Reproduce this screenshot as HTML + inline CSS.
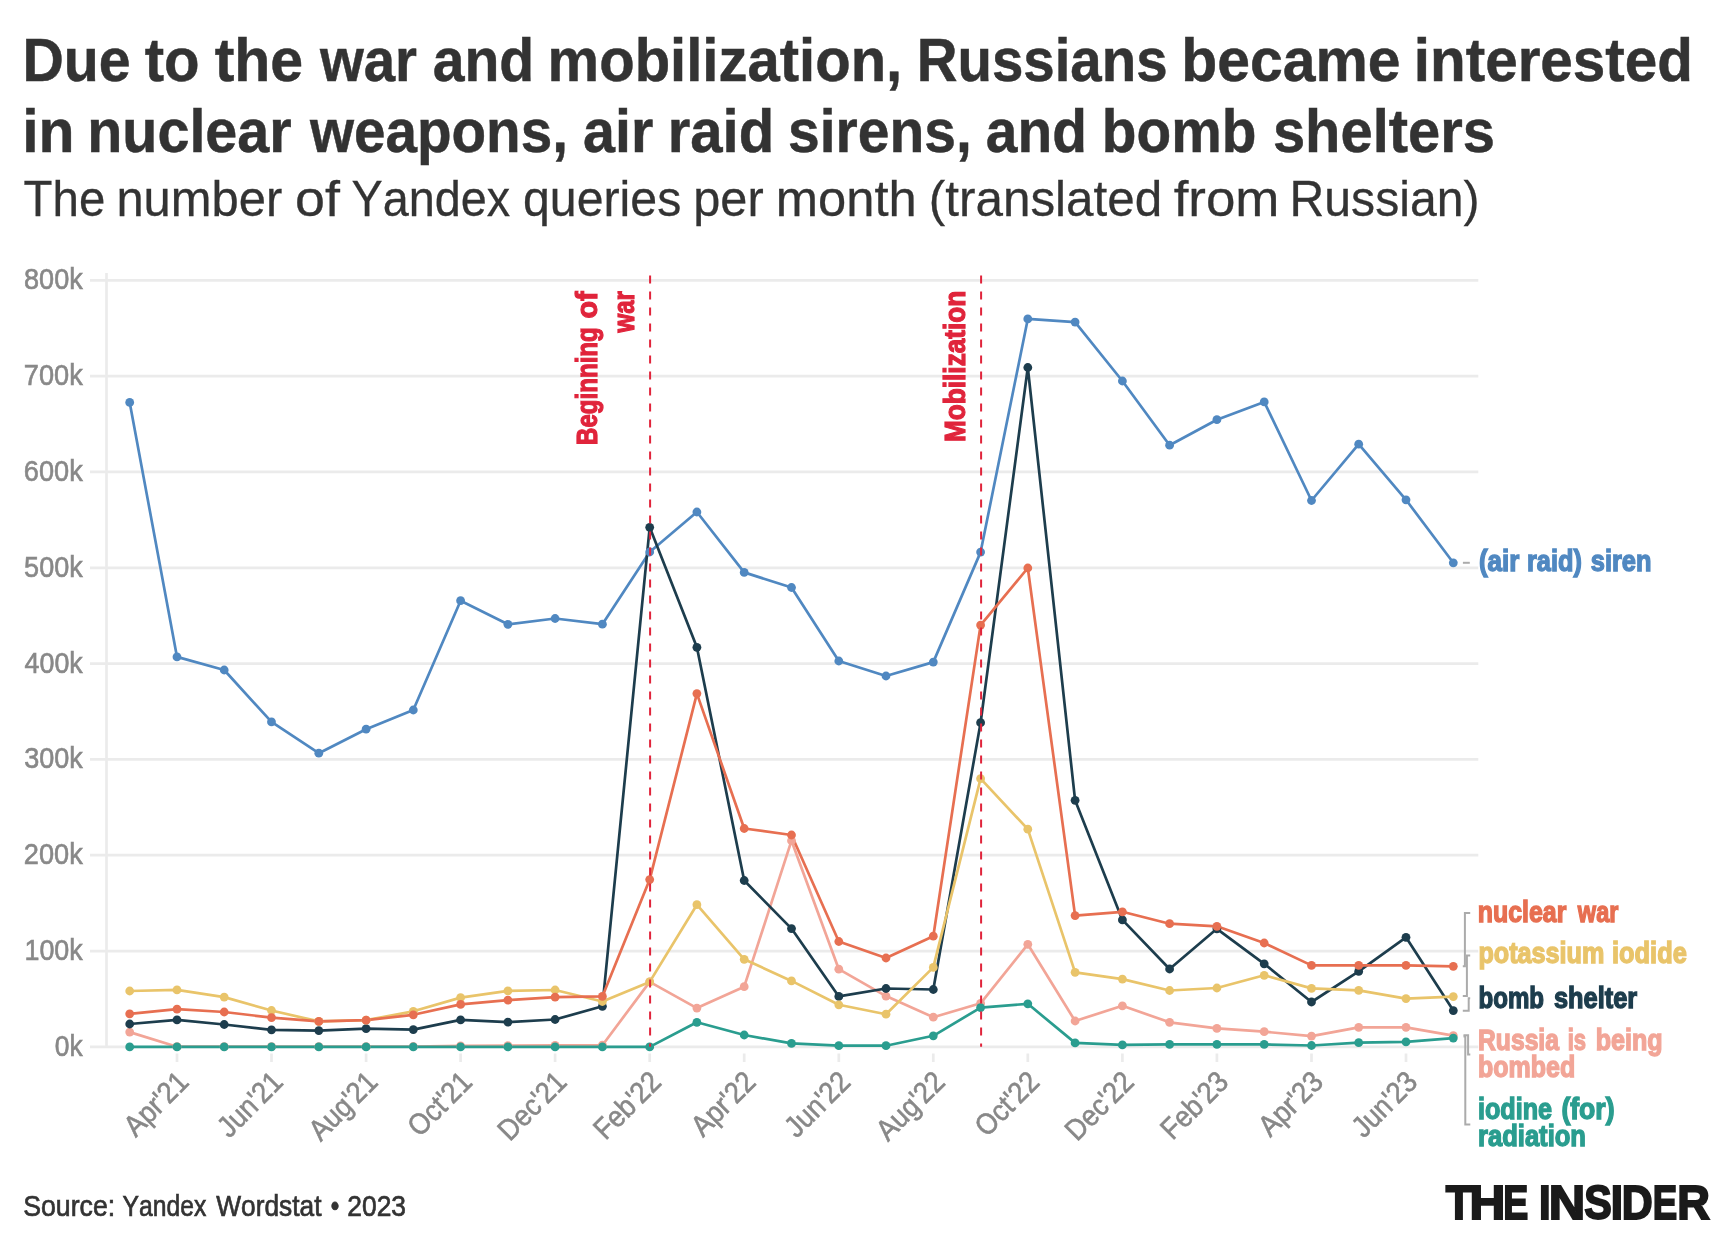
<!DOCTYPE html>
<html lang="en"><head><meta charset="utf-8"><title>Yandex queries chart</title>
<style>html,body{margin:0;padding:0;background:#fff;}svg{display:block;will-change:transform;}text{font-family:"Liberation Sans",sans-serif;font-kerning:none;}</style>
</head><body>
<svg width="1732" height="1251" viewBox="0 0 1732 1251">
<rect width="1732" height="1251" fill="#ffffff"/>
<g fill="#333333" stroke="#333333" stroke-width="0.5" font-weight="700" font-size="62">
<text x="22.42" y="80.8" textLength="108.19" lengthAdjust="spacingAndGlyphs">Due</text>
<text x="144.64" y="80.8" textLength="54.88" lengthAdjust="spacingAndGlyphs">to</text>
<text x="214.63" y="80.8" textLength="88.54" lengthAdjust="spacingAndGlyphs">the</text>
<text x="319.92" y="80.8" textLength="97.09" lengthAdjust="spacingAndGlyphs">war</text>
<text x="432.68" y="80.8" textLength="101.54" lengthAdjust="spacingAndGlyphs">and</text>
<text x="547.62" y="80.8" textLength="354.61" lengthAdjust="spacingAndGlyphs">mobilization,</text>
<text x="916.78" y="80.8" textLength="250.79" lengthAdjust="spacingAndGlyphs">Russians</text>
<text x="1181.27" y="80.8" textLength="219.29" lengthAdjust="spacingAndGlyphs">became</text>
<text x="1413.77" y="80.8" textLength="279.23" lengthAdjust="spacingAndGlyphs">interested</text>
</g>
<g fill="#333333" stroke="#333333" stroke-width="0.5" font-weight="700" font-size="62">
<text x="22.14" y="152.2" textLength="52.37" lengthAdjust="spacingAndGlyphs">in</text>
<text x="87.26" y="152.2" textLength="204.36" lengthAdjust="spacingAndGlyphs">nuclear</text>
<text x="309.92" y="152.2" textLength="258.02" lengthAdjust="spacingAndGlyphs">weapons,</text>
<text x="583.07" y="152.2" textLength="70.25" lengthAdjust="spacingAndGlyphs">air</text>
<text x="667.72" y="152.2" textLength="106.45" lengthAdjust="spacingAndGlyphs">raid</text>
<text x="788.05" y="152.2" textLength="183.71" lengthAdjust="spacingAndGlyphs">sirens,</text>
<text x="985.78" y="152.2" textLength="101.12" lengthAdjust="spacingAndGlyphs">and</text>
<text x="1101.81" y="152.2" textLength="154.57" lengthAdjust="spacingAndGlyphs">bomb</text>
<text x="1272.91" y="152.2" textLength="222.11" lengthAdjust="spacingAndGlyphs">shelters</text>
</g>
<g fill="#333333" stroke="#333333" stroke-width="0.3" font-weight="400" font-size="50.8">
<text x="23.59" y="215.8" textLength="81.67" lengthAdjust="spacingAndGlyphs">The</text>
<text x="116.40" y="215.8" textLength="165.86" lengthAdjust="spacingAndGlyphs">number</text>
<text x="295.09" y="215.8" textLength="44.88" lengthAdjust="spacingAndGlyphs">of</text>
<text x="351.52" y="215.8" textLength="158.73" lengthAdjust="spacingAndGlyphs">Yandex</text>
<text x="523.02" y="215.8" textLength="158.27" lengthAdjust="spacingAndGlyphs">queries</text>
<text x="693.31" y="215.8" textLength="70.35" lengthAdjust="spacingAndGlyphs">per</text>
<text x="775.78" y="215.8" textLength="140.96" lengthAdjust="spacingAndGlyphs">month</text>
<text x="928.78" y="215.8" textLength="233.55" lengthAdjust="spacingAndGlyphs">(translated</text>
<text x="1173.70" y="215.8" textLength="105.73" lengthAdjust="spacingAndGlyphs">from</text>
<text x="1289.60" y="215.8" textLength="189.93" lengthAdjust="spacingAndGlyphs">Russian)</text>
</g>
<g stroke="#ebebeb" stroke-width="2.7" fill="none">
<line x1="90" y1="1046.9" x2="1478.3" y2="1046.9"/>
<line x1="90" y1="951.1" x2="1478.3" y2="951.1"/>
<line x1="90" y1="855.2" x2="1478.3" y2="855.2"/>
<line x1="90" y1="759.4" x2="1478.3" y2="759.4"/>
<line x1="90" y1="663.6" x2="1478.3" y2="663.6"/>
<line x1="90" y1="567.8" x2="1478.3" y2="567.8"/>
<line x1="90" y1="471.9" x2="1478.3" y2="471.9"/>
<line x1="90" y1="376.1" x2="1478.3" y2="376.1"/>
<line x1="90" y1="280.3" x2="1478.3" y2="280.3"/>
<line x1="106.5" y1="273" x2="106.5" y2="1048.1"/>
<line x1="177.0" y1="1053.5" x2="177.0" y2="1062"/>
<line x1="271.5" y1="1053.5" x2="271.5" y2="1062"/>
<line x1="366.1" y1="1053.5" x2="366.1" y2="1062"/>
<line x1="460.6" y1="1053.5" x2="460.6" y2="1062"/>
<line x1="555.1" y1="1053.5" x2="555.1" y2="1062"/>
<line x1="649.7" y1="1053.5" x2="649.7" y2="1062"/>
<line x1="744.2" y1="1053.5" x2="744.2" y2="1062"/>
<line x1="838.8" y1="1053.5" x2="838.8" y2="1062"/>
<line x1="933.3" y1="1053.5" x2="933.3" y2="1062"/>
<line x1="1027.8" y1="1053.5" x2="1027.8" y2="1062"/>
<line x1="1122.4" y1="1053.5" x2="1122.4" y2="1062"/>
<line x1="1216.9" y1="1053.5" x2="1216.9" y2="1062"/>
<line x1="1311.5" y1="1053.5" x2="1311.5" y2="1062"/>
<line x1="1406.0" y1="1053.5" x2="1406.0" y2="1062"/>
</g>
<g fill="#888888" stroke="#888888" stroke-width="0.6" font-size="28.8">
<text x="54.87" y="1055.9" textLength="27.89" lengthAdjust="spacingAndGlyphs">0k</text>
<text x="24.45" y="960.1" textLength="58.31" lengthAdjust="spacingAndGlyphs">100k</text>
<text x="23.83" y="864.2" textLength="58.93" lengthAdjust="spacingAndGlyphs">200k</text>
<text x="24.17" y="768.4" textLength="58.59" lengthAdjust="spacingAndGlyphs">300k</text>
<text x="24.58" y="672.6" textLength="58.18" lengthAdjust="spacingAndGlyphs">400k</text>
<text x="24.12" y="576.8" textLength="58.64" lengthAdjust="spacingAndGlyphs">500k</text>
<text x="23.82" y="480.9" textLength="58.94" lengthAdjust="spacingAndGlyphs">600k</text>
<text x="23.81" y="385.1" textLength="58.95" lengthAdjust="spacingAndGlyphs">700k</text>
<text x="24.02" y="289.3" textLength="58.74" lengthAdjust="spacingAndGlyphs">800k</text>
</g>
<g fill="#888888" stroke="#888888" stroke-width="0.6" font-size="29.6" text-anchor="end">
<text transform="translate(190.2,1083.6) rotate(-45)" textLength="76.9" lengthAdjust="spacingAndGlyphs">Apr'21</text>
<text transform="translate(284.7,1083.6) rotate(-45)" textLength="78.4" lengthAdjust="spacingAndGlyphs">Jun'21</text>
<text transform="translate(379.2,1083.6) rotate(-45)" textLength="82.8" lengthAdjust="spacingAndGlyphs">Aug'21</text>
<text transform="translate(473.8,1083.6) rotate(-45)" textLength="76.8" lengthAdjust="spacingAndGlyphs">Oct'21</text>
<text transform="translate(568.3,1083.6) rotate(-45)" textLength="82.8" lengthAdjust="spacingAndGlyphs">Dec'21</text>
<text transform="translate(662.9,1083.6) rotate(-45)" textLength="81.3" lengthAdjust="spacingAndGlyphs">Feb'22</text>
<text transform="translate(757.4,1083.6) rotate(-45)" textLength="76.9" lengthAdjust="spacingAndGlyphs">Apr'22</text>
<text transform="translate(852.0,1083.6) rotate(-45)" textLength="78.4" lengthAdjust="spacingAndGlyphs">Jun'22</text>
<text transform="translate(946.5,1083.6) rotate(-45)" textLength="82.8" lengthAdjust="spacingAndGlyphs">Aug'22</text>
<text transform="translate(1041.0,1083.6) rotate(-45)" textLength="76.8" lengthAdjust="spacingAndGlyphs">Oct'22</text>
<text transform="translate(1135.6,1083.6) rotate(-45)" textLength="82.8" lengthAdjust="spacingAndGlyphs">Dec'22</text>
<text transform="translate(1230.1,1083.6) rotate(-45)" textLength="81.3" lengthAdjust="spacingAndGlyphs">Feb'23</text>
<text transform="translate(1324.7,1083.6) rotate(-45)" textLength="76.9" lengthAdjust="spacingAndGlyphs">Apr'23</text>
<text transform="translate(1419.2,1083.6) rotate(-45)" textLength="78.4" lengthAdjust="spacingAndGlyphs">Jun'23</text>
</g>
<g fill="none" stroke-width="2.7" stroke-linejoin="round" stroke-linecap="round">
<polyline stroke="#5088c1" points="129.7,402.4 177.0,656.9 224.2,670.0 271.5,721.9 318.8,753.2 366.1,729.2 413.3,710.0 460.6,600.7 507.9,624.3 555.1,618.5 602.4,624.2 649.7,552.0 696.9,512.0 744.2,572.4 791.5,587.5 838.8,661.0 886.0,676.0 933.3,662.1 980.6,552.1 1027.8,318.9 1075.1,322.1 1122.4,381.0 1169.6,445.2 1216.9,419.7 1264.2,401.9 1311.5,500.5 1358.7,444.2 1406.0,499.8 1453.3,562.8"/>
<polyline stroke="#f2a597" points="129.7,1032.1 177.0,1046.7 224.2,1046.7 271.5,1046.7 318.8,1046.7 366.1,1046.7 413.3,1046.5 460.6,1045.9 507.9,1045.6 555.1,1045.4 602.4,1045.2 649.7,981.9 696.9,1008.1 744.2,986.7 791.5,840.7 838.8,969.2 886.0,996.1 933.3,1017.2 980.6,1003.3 1027.8,944.3 1075.1,1021.0 1122.4,1005.8 1169.6,1022.3 1216.9,1028.4 1264.2,1031.7 1311.5,1036.1 1358.7,1027.3 1406.0,1027.3 1453.3,1035.6"/>
<polyline stroke="#1d3d4d" points="129.7,1024.0 177.0,1019.9 224.2,1024.5 271.5,1029.8 318.8,1030.6 366.1,1028.6 413.3,1029.6 460.6,1019.9 507.9,1022.1 555.1,1019.5 602.4,1006.3 649.7,527.3 696.9,647.3 744.2,880.5 791.5,928.6 838.8,996.4 886.0,988.5 933.3,989.5 980.6,722.7 1027.8,367.5 1075.1,800.3 1122.4,919.9 1169.6,969.0 1216.9,928.8 1264.2,963.8 1311.5,1002.0 1358.7,971.4 1406.0,937.3 1453.3,1010.6"/>
<polyline stroke="#e9c46a" points="129.7,991.0 177.0,989.9 224.2,997.1 271.5,1010.5 318.8,1021.4 366.1,1020.2 413.3,1011.3 460.6,997.6 507.9,990.8 555.1,990.0 602.4,1001.5 649.7,981.9 696.9,904.7 744.2,959.3 791.5,980.9 838.8,1004.8 886.0,1014.2 933.3,967.4 980.6,778.7 1027.8,829.2 1075.1,972.3 1122.4,979.1 1169.6,990.5 1216.9,988.0 1264.2,975.3 1311.5,988.4 1358.7,990.4 1406.0,998.6 1453.3,996.6"/>
<polyline stroke="#e76f51" points="129.7,1013.8 177.0,1009.2 224.2,1012.0 271.5,1017.6 318.8,1021.4 366.1,1020.2 413.3,1014.8 460.6,1004.4 507.9,1000.1 555.1,997.2 602.4,996.4 649.7,879.6 696.9,693.6 744.2,828.5 791.5,835.0 838.8,941.5 886.0,958.0 933.3,936.2 980.6,625.1 1027.8,568.0 1075.1,915.6 1122.4,911.8 1169.6,923.7 1216.9,926.3 1264.2,943.0 1311.5,965.4 1358.7,965.4 1406.0,965.4 1453.3,966.3"/>
<polyline stroke="#2a9d8f" points="129.7,1046.9 177.0,1046.9 224.2,1046.9 271.5,1046.9 318.8,1046.9 366.1,1046.9 413.3,1046.9 460.6,1046.9 507.9,1046.9 555.1,1046.9 602.4,1046.9 649.7,1046.9 696.9,1022.3 744.2,1035.0 791.5,1043.4 838.8,1045.7 886.0,1045.7 933.3,1035.8 980.6,1007.6 1027.8,1003.8 1075.1,1042.9 1122.4,1044.9 1169.6,1044.4 1216.9,1044.4 1264.2,1044.4 1311.5,1045.5 1358.7,1042.7 1406.0,1041.8 1453.3,1038.1"/>
</g>
<g fill="#5088c1">
<circle cx="129.7" cy="402.4" r="4.4"/><circle cx="177.0" cy="656.9" r="4.4"/><circle cx="224.2" cy="670.0" r="4.4"/><circle cx="271.5" cy="721.9" r="4.4"/><circle cx="318.8" cy="753.2" r="4.4"/><circle cx="366.1" cy="729.2" r="4.4"/><circle cx="413.3" cy="710.0" r="4.4"/><circle cx="460.6" cy="600.7" r="4.4"/><circle cx="507.9" cy="624.3" r="4.4"/><circle cx="555.1" cy="618.5" r="4.4"/><circle cx="602.4" cy="624.2" r="4.4"/><circle cx="649.7" cy="552.0" r="4.4"/><circle cx="696.9" cy="512.0" r="4.4"/><circle cx="744.2" cy="572.4" r="4.4"/><circle cx="791.5" cy="587.5" r="4.4"/><circle cx="838.8" cy="661.0" r="4.4"/><circle cx="886.0" cy="676.0" r="4.4"/><circle cx="933.3" cy="662.1" r="4.4"/><circle cx="980.6" cy="552.1" r="4.4"/><circle cx="1027.8" cy="318.9" r="4.4"/><circle cx="1075.1" cy="322.1" r="4.4"/><circle cx="1122.4" cy="381.0" r="4.4"/><circle cx="1169.6" cy="445.2" r="4.4"/><circle cx="1216.9" cy="419.7" r="4.4"/><circle cx="1264.2" cy="401.9" r="4.4"/><circle cx="1311.5" cy="500.5" r="4.4"/><circle cx="1358.7" cy="444.2" r="4.4"/><circle cx="1406.0" cy="499.8" r="4.4"/><circle cx="1453.3" cy="562.8" r="4.4"/>
</g>
<g fill="#f2a597">
<circle cx="129.7" cy="1032.1" r="4.4"/><circle cx="177.0" cy="1046.7" r="4.4"/><circle cx="224.2" cy="1046.7" r="4.4"/><circle cx="271.5" cy="1046.7" r="4.4"/><circle cx="318.8" cy="1046.7" r="4.4"/><circle cx="366.1" cy="1046.7" r="4.4"/><circle cx="413.3" cy="1046.5" r="4.4"/><circle cx="460.6" cy="1045.9" r="4.4"/><circle cx="507.9" cy="1045.6" r="4.4"/><circle cx="555.1" cy="1045.4" r="4.4"/><circle cx="602.4" cy="1045.2" r="4.4"/><circle cx="649.7" cy="981.9" r="4.4"/><circle cx="696.9" cy="1008.1" r="4.4"/><circle cx="744.2" cy="986.7" r="4.4"/><circle cx="791.5" cy="840.7" r="4.4"/><circle cx="838.8" cy="969.2" r="4.4"/><circle cx="886.0" cy="996.1" r="4.4"/><circle cx="933.3" cy="1017.2" r="4.4"/><circle cx="980.6" cy="1003.3" r="4.4"/><circle cx="1027.8" cy="944.3" r="4.4"/><circle cx="1075.1" cy="1021.0" r="4.4"/><circle cx="1122.4" cy="1005.8" r="4.4"/><circle cx="1169.6" cy="1022.3" r="4.4"/><circle cx="1216.9" cy="1028.4" r="4.4"/><circle cx="1264.2" cy="1031.7" r="4.4"/><circle cx="1311.5" cy="1036.1" r="4.4"/><circle cx="1358.7" cy="1027.3" r="4.4"/><circle cx="1406.0" cy="1027.3" r="4.4"/><circle cx="1453.3" cy="1035.6" r="4.4"/>
</g>
<g fill="#1d3d4d">
<circle cx="129.7" cy="1024.0" r="4.4"/><circle cx="177.0" cy="1019.9" r="4.4"/><circle cx="224.2" cy="1024.5" r="4.4"/><circle cx="271.5" cy="1029.8" r="4.4"/><circle cx="318.8" cy="1030.6" r="4.4"/><circle cx="366.1" cy="1028.6" r="4.4"/><circle cx="413.3" cy="1029.6" r="4.4"/><circle cx="460.6" cy="1019.9" r="4.4"/><circle cx="507.9" cy="1022.1" r="4.4"/><circle cx="555.1" cy="1019.5" r="4.4"/><circle cx="602.4" cy="1006.3" r="4.4"/><circle cx="649.7" cy="527.3" r="4.4"/><circle cx="696.9" cy="647.3" r="4.4"/><circle cx="744.2" cy="880.5" r="4.4"/><circle cx="791.5" cy="928.6" r="4.4"/><circle cx="838.8" cy="996.4" r="4.4"/><circle cx="886.0" cy="988.5" r="4.4"/><circle cx="933.3" cy="989.5" r="4.4"/><circle cx="980.6" cy="722.7" r="4.4"/><circle cx="1027.8" cy="367.5" r="4.4"/><circle cx="1075.1" cy="800.3" r="4.4"/><circle cx="1122.4" cy="919.9" r="4.4"/><circle cx="1169.6" cy="969.0" r="4.4"/><circle cx="1216.9" cy="928.8" r="4.4"/><circle cx="1264.2" cy="963.8" r="4.4"/><circle cx="1311.5" cy="1002.0" r="4.4"/><circle cx="1358.7" cy="971.4" r="4.4"/><circle cx="1406.0" cy="937.3" r="4.4"/><circle cx="1453.3" cy="1010.6" r="4.4"/>
</g>
<g fill="#e9c46a">
<circle cx="129.7" cy="991.0" r="4.4"/><circle cx="177.0" cy="989.9" r="4.4"/><circle cx="224.2" cy="997.1" r="4.4"/><circle cx="271.5" cy="1010.5" r="4.4"/><circle cx="318.8" cy="1021.4" r="4.4"/><circle cx="366.1" cy="1020.2" r="4.4"/><circle cx="413.3" cy="1011.3" r="4.4"/><circle cx="460.6" cy="997.6" r="4.4"/><circle cx="507.9" cy="990.8" r="4.4"/><circle cx="555.1" cy="990.0" r="4.4"/><circle cx="602.4" cy="1001.5" r="4.4"/><circle cx="649.7" cy="981.9" r="4.4"/><circle cx="696.9" cy="904.7" r="4.4"/><circle cx="744.2" cy="959.3" r="4.4"/><circle cx="791.5" cy="980.9" r="4.4"/><circle cx="838.8" cy="1004.8" r="4.4"/><circle cx="886.0" cy="1014.2" r="4.4"/><circle cx="933.3" cy="967.4" r="4.4"/><circle cx="980.6" cy="778.7" r="4.4"/><circle cx="1027.8" cy="829.2" r="4.4"/><circle cx="1075.1" cy="972.3" r="4.4"/><circle cx="1122.4" cy="979.1" r="4.4"/><circle cx="1169.6" cy="990.5" r="4.4"/><circle cx="1216.9" cy="988.0" r="4.4"/><circle cx="1264.2" cy="975.3" r="4.4"/><circle cx="1311.5" cy="988.4" r="4.4"/><circle cx="1358.7" cy="990.4" r="4.4"/><circle cx="1406.0" cy="998.6" r="4.4"/><circle cx="1453.3" cy="996.6" r="4.4"/>
</g>
<g fill="#e76f51">
<circle cx="129.7" cy="1013.8" r="4.4"/><circle cx="177.0" cy="1009.2" r="4.4"/><circle cx="224.2" cy="1012.0" r="4.4"/><circle cx="271.5" cy="1017.6" r="4.4"/><circle cx="318.8" cy="1021.4" r="4.4"/><circle cx="366.1" cy="1020.2" r="4.4"/><circle cx="413.3" cy="1014.8" r="4.4"/><circle cx="460.6" cy="1004.4" r="4.4"/><circle cx="507.9" cy="1000.1" r="4.4"/><circle cx="555.1" cy="997.2" r="4.4"/><circle cx="602.4" cy="996.4" r="4.4"/><circle cx="649.7" cy="879.6" r="4.4"/><circle cx="696.9" cy="693.6" r="4.4"/><circle cx="744.2" cy="828.5" r="4.4"/><circle cx="791.5" cy="835.0" r="4.4"/><circle cx="838.8" cy="941.5" r="4.4"/><circle cx="886.0" cy="958.0" r="4.4"/><circle cx="933.3" cy="936.2" r="4.4"/><circle cx="980.6" cy="625.1" r="4.4"/><circle cx="1027.8" cy="568.0" r="4.4"/><circle cx="1075.1" cy="915.6" r="4.4"/><circle cx="1122.4" cy="911.8" r="4.4"/><circle cx="1169.6" cy="923.7" r="4.4"/><circle cx="1216.9" cy="926.3" r="4.4"/><circle cx="1264.2" cy="943.0" r="4.4"/><circle cx="1311.5" cy="965.4" r="4.4"/><circle cx="1358.7" cy="965.4" r="4.4"/><circle cx="1406.0" cy="965.4" r="4.4"/><circle cx="1453.3" cy="966.3" r="4.4"/>
</g>
<g fill="#2a9d8f">
<circle cx="129.7" cy="1046.9" r="4.4"/><circle cx="177.0" cy="1046.9" r="4.4"/><circle cx="224.2" cy="1046.9" r="4.4"/><circle cx="271.5" cy="1046.9" r="4.4"/><circle cx="318.8" cy="1046.9" r="4.4"/><circle cx="366.1" cy="1046.9" r="4.4"/><circle cx="413.3" cy="1046.9" r="4.4"/><circle cx="460.6" cy="1046.9" r="4.4"/><circle cx="507.9" cy="1046.9" r="4.4"/><circle cx="555.1" cy="1046.9" r="4.4"/><circle cx="602.4" cy="1046.9" r="4.4"/><circle cx="649.7" cy="1046.9" r="4.4"/><circle cx="696.9" cy="1022.3" r="4.4"/><circle cx="744.2" cy="1035.0" r="4.4"/><circle cx="791.5" cy="1043.4" r="4.4"/><circle cx="838.8" cy="1045.7" r="4.4"/><circle cx="886.0" cy="1045.7" r="4.4"/><circle cx="933.3" cy="1035.8" r="4.4"/><circle cx="980.6" cy="1007.6" r="4.4"/><circle cx="1027.8" cy="1003.8" r="4.4"/><circle cx="1075.1" cy="1042.9" r="4.4"/><circle cx="1122.4" cy="1044.9" r="4.4"/><circle cx="1169.6" cy="1044.4" r="4.4"/><circle cx="1216.9" cy="1044.4" r="4.4"/><circle cx="1264.2" cy="1044.4" r="4.4"/><circle cx="1311.5" cy="1045.5" r="4.4"/><circle cx="1358.7" cy="1042.7" r="4.4"/><circle cx="1406.0" cy="1041.8" r="4.4"/><circle cx="1453.3" cy="1038.1" r="4.4"/>
</g>
<g stroke="#e0243b" stroke-width="2" stroke-dasharray="8 8" fill="none">
<line x1="650.1" y1="275.5" x2="650.1" y2="1046.7"/>
<line x1="981.1" y1="275.5" x2="981.1" y2="1046.7"/>
</g>
<g fill="#e0243b" stroke="#e0243b" stroke-width="1.2" font-weight="700" font-size="29.5">
<text transform="translate(597.1,0) rotate(-90)" x="-445.01" y="0" textLength="117.82" lengthAdjust="spacingAndGlyphs">Beginning</text>
<text transform="translate(597.1,0) rotate(-90)" x="-318.62" y="0" textLength="27.17" lengthAdjust="spacingAndGlyphs">of</text>
<text transform="translate(634.2,0) rotate(-90)" x="-332.53" y="0" textLength="41.49" lengthAdjust="spacingAndGlyphs">war</text>
<text transform="translate(965.0,0) rotate(-90)" x="-442.05" y="0" textLength="151.38" lengthAdjust="spacingAndGlyphs">Mobilization</text>
</g>
<g stroke="#ababab" stroke-width="2" fill="none">
<line x1="1462.9" y1="562.8" x2="1469.8" y2="562.8"/>
<polyline points="1462.8,966.2 1464.9,966.2 1464.9,912.9 1470.2,912.9"/>
<polyline points="1462.8,995.9 1466.9,995.9 1466.9,955.6 1470.2,955.6"/>
<polyline points="1462.8,1010.7 1468.7,1010.7 1468.7,998.3 1470.2,998.3"/>
<polyline points="1463.5,1035.2 1468.1,1035.2 1468.1,1054.6 1470.3,1054.6"/>
<polyline points="1463.5,1036.6 1465.3,1036.6 1465.3,1124.6 1470.3,1124.6"/>
</g>
<g font-weight="700" font-size="29.6">
<text x="1478.90" y="570.90" fill="#5088c1" stroke="#5088c1" stroke-width="1.4" textLength="40.49" lengthAdjust="spacingAndGlyphs">(air</text>
<text x="1527.03" y="570.90" fill="#5088c1" stroke="#5088c1" stroke-width="1.4" textLength="54.83" lengthAdjust="spacingAndGlyphs">raid)</text>
<text x="1590.81" y="570.90" fill="#5088c1" stroke="#5088c1" stroke-width="1.4" textLength="60.67" lengthAdjust="spacingAndGlyphs">siren</text>
<text x="1477.76" y="922.00" fill="#e76f51" stroke="#e76f51" stroke-width="1.4" textLength="88.62" lengthAdjust="spacingAndGlyphs">nuclear</text>
<text x="1577.87" y="922.00" fill="#e76f51" stroke="#e76f51" stroke-width="1.4" textLength="40.49" lengthAdjust="spacingAndGlyphs">war</text>
<text x="1478.44" y="962.90" fill="#e9c46a" stroke="#e9c46a" stroke-width="1.4" textLength="125.82" lengthAdjust="spacingAndGlyphs">potassium</text>
<text x="1612.03" y="962.90" fill="#e9c46a" stroke="#e9c46a" stroke-width="1.4" textLength="74.74" lengthAdjust="spacingAndGlyphs">iodide</text>
<text x="1478.51" y="1007.90" fill="#1d3d4d" stroke="#1d3d4d" stroke-width="1.4" textLength="65.58" lengthAdjust="spacingAndGlyphs">bomb</text>
<text x="1554.01" y="1007.90" fill="#1d3d4d" stroke="#1d3d4d" stroke-width="1.4" textLength="83.07" lengthAdjust="spacingAndGlyphs">shelter</text>
<text x="1478.05" y="1049.60" fill="#f2a597" stroke="#f2a597" stroke-width="1.4" textLength="80.89" lengthAdjust="spacingAndGlyphs">Russia</text>
<text x="1567.66" y="1049.60" fill="#f2a597" stroke="#f2a597" stroke-width="1.4" textLength="18.34" lengthAdjust="spacingAndGlyphs">is</text>
<text x="1595.65" y="1049.60" fill="#f2a597" stroke="#f2a597" stroke-width="1.4" textLength="66.93" lengthAdjust="spacingAndGlyphs">being</text>
<text x="1478.05" y="1077.00" fill="#f2a597" stroke="#f2a597" stroke-width="1.4" textLength="97.09" lengthAdjust="spacingAndGlyphs">bombed</text>
<text x="1477.94" y="1118.90" fill="#2a9d8f" stroke="#2a9d8f" stroke-width="1.4" textLength="74.12" lengthAdjust="spacingAndGlyphs">iodine</text>
<text x="1561.38" y="1118.90" fill="#2a9d8f" stroke="#2a9d8f" stroke-width="1.4" textLength="53.15" lengthAdjust="spacingAndGlyphs">(for)</text>
<text x="1478.01" y="1146.30" fill="#2a9d8f" stroke="#2a9d8f" stroke-width="1.4" textLength="107.97" lengthAdjust="spacingAndGlyphs">radiation</text>
</g>
<g fill="#333333" stroke="#333333" stroke-width="0.7" font-weight="400" font-size="29.8">
<text x="23.24" y="1216.1" textLength="91.95" lengthAdjust="spacingAndGlyphs">Source:</text>
<text x="122.61" y="1216.1" textLength="83.71" lengthAdjust="spacingAndGlyphs">Yandex</text>
<text x="216.33" y="1216.1" textLength="105.11" lengthAdjust="spacingAndGlyphs">Wordstat</text>
<text x="330.69" y="1216.1" textLength="8.53" lengthAdjust="spacingAndGlyphs">•</text>
<text x="347.32" y="1216.1" textLength="58.69" lengthAdjust="spacingAndGlyphs">2023</text>
</g>
<g fill="#1a1a1a" stroke="#1a1a1a" stroke-width="2.0" stroke-linejoin="miter" font-weight="700" font-size="47.97">
<text transform="translate(1445.81,1219.00) scale(0.8993,1)">T</text>
<text transform="translate(1469.62,1219.00) scale(1.0332,1)">H</text>
<text transform="translate(1503.27,1219.00) scale(0.7817,1)">E</text>
<text transform="translate(1539.07,1219.00) scale(0.8755,1)">I</text>
<text transform="translate(1548.87,1219.00) scale(1.0530,1)">N</text>
<text transform="translate(1584.37,1219.00) scale(0.8589,1)">S</text>
<text transform="translate(1610.87,1219.00) scale(0.9204,1)">I</text>
<text transform="translate(1621.72,1219.00) scale(0.8944,1)">D</text>
<text transform="translate(1652.71,1219.00) scale(0.7644,1)">E</text>
<text transform="translate(1677.22,1219.00) scale(0.9431,1)">R</text>
</g>
</svg>
</body></html>
